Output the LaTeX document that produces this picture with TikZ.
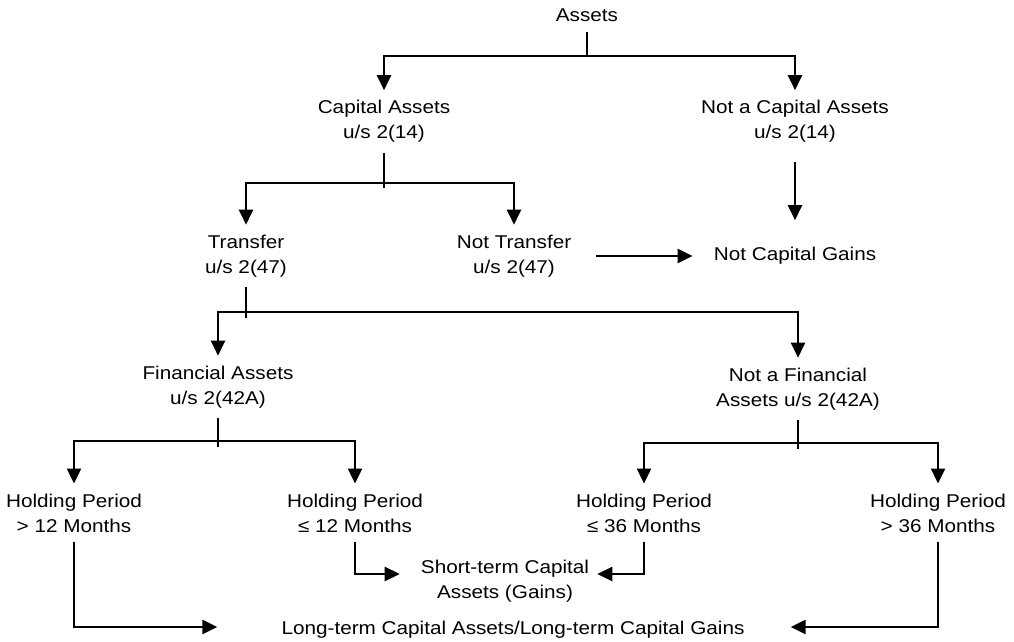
\documentclass[tikz,border=0pt]{standalone}
\usepackage{fontspec}
\setmainfont{Liberation Sans}[FakeStretch=1.12]
\usetikzlibrary{arrows.meta, calc}
\tikzset{
	every node/.style={
		align=center,
	},
}
\tikzstyle{termnode} = [inner xsep=0pt, inner ysep=10pt, font=\fontsize{18.5}{25}\selectfont]
\tikzstyle{flowline} = [line width=2.4pt]
\tikzstyle{flowarrow} = [line width=2.4pt, -{Triangle[length=15pt,width=14pt]}]

\begin{document}
\begin{tikzpicture}[x=1pt, y=-1pt]
	\useasboundingbox (0,0) rectangle (1014,642);
	
	% terms of the tree
	\node[termnode] (assets) at (587,15) {Assets};
	\node[termnode] (cap) at (384,121.5) {Capital Assets\\u/s 2(14)};
	\node[termnode] (ncap) at (795,121.5) {Not a Capital Assets\\u/s 2(14)};
	\node[termnode] (tr) at (246,256) {Transfer\\u/s 2(47)};
	\node[termnode] (ntr) at (514,256) {Not Transfer\\u/s 2(47)};
	\node[termnode] (ncg) at (795,256) {Not Capital Gains};
	\node[termnode] (fin) at (218,387) {Financial Assets\\u/s 2(42A)};
	\node[termnode] (nfin) at (798,389) {Not a Financial\\Assets u/s 2(42A)};
	\node[termnode] (h1) at (74,513) {Holding Period\\> 12 Months};
	\node[termnode] (h2) at (355,513) {Holding Period\\≤ 12 Months};
	\node[termnode] (h3) at (644,513) {Holding Period\\≤ 36 Months};
	\node[termnode] (h4) at (938,513) {Holding Period\\> 36 Months};
	\node[termnode] (st) at (505,581) {Short-term Capital\\Assets (Gains)};
	\node[termnode] (lt) at (513,630) {Long-term Capital Assets/Long-term Capital Gains};
	
	% branch points
	\coordinate (ja) at (587,56);
	\coordinate (jb) at (384,183);
	\coordinate (jc) at (246,312);
	\coordinate (jd) at (218,441);
	\coordinate (je) at (798,443);
	
	\draw[flowline] (assets.south) -- (ja);
	\draw[flowarrow] (ja) -| (cap.north);
	\draw[flowarrow] (ja) -| (ncap.north);
	
	\draw[flowline] (cap.south) -- (jb) -- ++(0,5);
	\draw[flowarrow] (jb) -| (tr.north);
	\draw[flowarrow] (jb) -| (ntr.north);
	\draw[flowarrow, shorten <=9pt, shorten >=17pt] (ncap.south) -- (ncg.north);
	\draw[flowarrow, shorten <=25pt, shorten >=21pt] (ntr.east) -- (ntr.east -| ncg.west);
	
	\draw[flowline] (tr.south) -- (jc) -- ++(0,6);
	\draw[flowarrow] (jc) -| (fin.north);
	\draw[flowarrow] (jc) -| (nfin.north);
	
	\draw[flowline] (fin.south) -- (jd) -- ++(0,6);
	\draw[flowarrow] (jd) -| (h1.north);
	\draw[flowarrow] (jd) -| (h2.north);
	
	\draw[flowline] (nfin.south) -- (je) -- ++(0,6);
	\draw[flowarrow] (je) -| (h3.north);
	\draw[flowarrow] (je) -| (h4.north);
	
	% into the two kinds of gains
	\draw[flowarrow, shorten >=21pt] (h2.south) |- ([yshift=7pt]st.west);
	\draw[flowarrow, shorten >=8pt] (h3.south) |- ([yshift=7pt]st.east);
	\draw[flowarrow, shorten >=64pt] (h1.south) |- ([yshift=3pt]lt.west);
	\draw[flowarrow, shorten >=46pt] (h4.south) |- ([yshift=3pt]lt.east);
	
\end{tikzpicture}
\end{document}
